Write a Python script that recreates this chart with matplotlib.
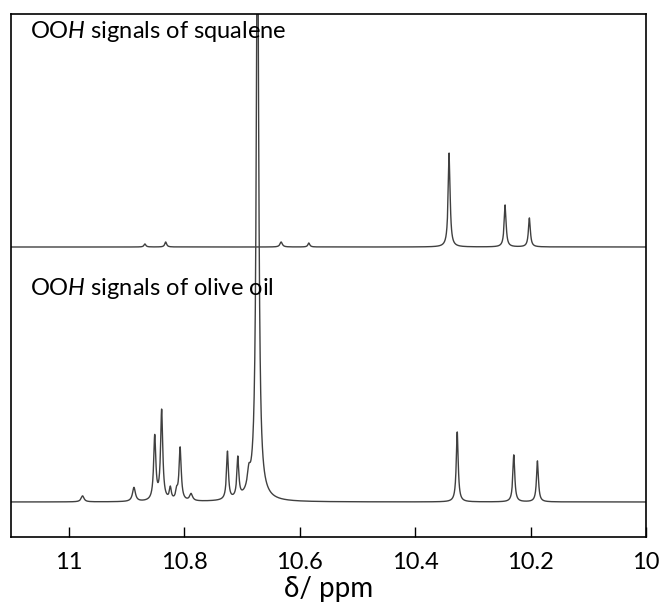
import numpy as np
import matplotlib
matplotlib.use('Agg')
import matplotlib.pyplot as plt

plt.rcParams['font.family'] = ['Lato', 'DejaVu Sans']
plt.rcParams['mathtext.fontset'] = 'custom'
plt.rcParams['mathtext.rm'] = 'Lato'
plt.rcParams['mathtext.it'] = 'Lato:italic'

# peak lists: shift (ppm), height, width (ppm)
squalene_ppm = [10.868, 10.832, 10.632, 10.584, 10.341, 10.244, 10.202]
squalene_h = [3, 5, 5, 4, 94, 42, 29]
squalene_w = [0.004, 0.004, 0.005, 0.004, 0.004, 0.004, 0.004]

olive_ppm = [10.976, 10.887, 10.851, 10.839, 10.824, 10.813, 10.807, 10.788,
             10.725, 10.707, 10.688, 10.673, 10.675, 10.327, 10.229, 10.188]
olive_h = [6, 14, 64, 90, 12, 8, 53, 7, 48, 40, 16, 600, 10, 70, 47, 41]
olive_w = [0.006, 0.006, 0.0045, 0.0045, 0.004, 0.004, 0.0045, 0.006,
           0.004, 0.004, 0.006, 0.005, 0.03, 0.004, 0.004, 0.004]

ticks = [11, 10.8, 10.6, 10.4, 10.2, 10]
tick_labels = ['11', '10.8', '10.6', '10.4', '10.2', '10']


def spectrum(x, ppm, h, w):
    y = np.zeros_like(x)
    for p, a, fw in zip(ppm, h, w):
        y += a / (1 + ((x - p) / (fw / 2)) ** 2)
    return y


x = np.linspace(10.0, 11.1, 6000)
top_base = 290
bot_base = 35

fig = plt.figure(figsize=(6.59, 6.05), dpi=100)
ax = fig.add_axes([11 / 659, 1 - 537 / 605, 635 / 659, 523.5 / 605])
ax.plot(x, top_base + spectrum(x, squalene_ppm, squalene_h, squalene_w),
        color='#404040', lw=1.0)
ax.plot(x, bot_base + spectrum(x, olive_ppm, olive_h, olive_w),
        color='#404040', lw=1.0)
ax.set_xlim(11.1, 10.0)
ax.set_ylim(0, 523.5)
ax.set_yticks([])
ax.set_xticks(ticks)
ax.set_xticklabels(tick_labels, fontsize=17)
ax.tick_params(axis='x', direction='in', length=7, width=1, pad=11)
for s in ax.spines.values():
    s.set_linewidth(1.2)
ax.set_xlabel('δ/ ppm', fontsize=20, labelpad=2)

ax.text(30 / 659, 1 - 38 / 605, r'OO$\mathit{H}$ signals of squalene',
        transform=fig.transFigure, fontsize=17)
ax.text(30 / 659, 1 - 295 / 605, r'OO$\mathit{H}$ signals of olive oil',
        transform=fig.transFigure, fontsize=17)

fig.savefig('out.png', dpi=100)
